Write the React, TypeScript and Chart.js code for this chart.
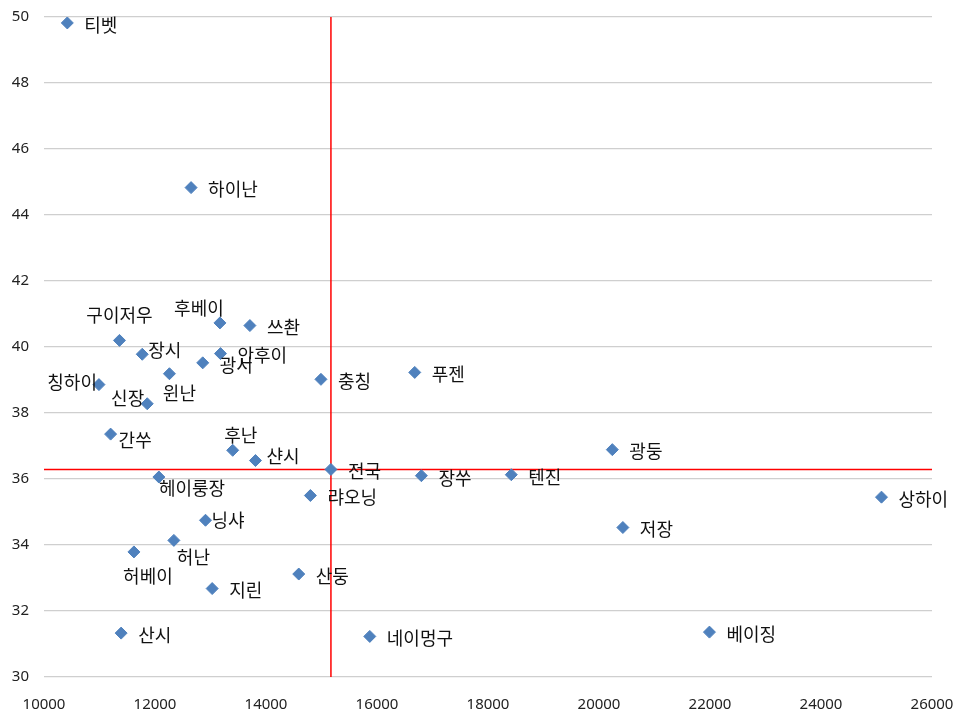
import React, { useEffect, useRef } from 'react';
import { Chart, registerables } from 'chart.js';

Chart.register(...registerables);

const regions: string[] = [
  '티벳', '하이난', '구이저우', '후베이', '쓰촨', '장시', '안후이', '광서',
  '윈난', '칭하이', '신장', '충칭', '푸젠', '간쑤', '후난', '샨시',
  '전국', '장쑤', '헤이룽장', '랴오닝', '닝샤', '텐진', '광둥', '상하이',
  '저장', '허난', '허베이', '산둥', '지린', '산시', '네이멍구', '베이징',
];
const incomeValues: number[] = [
  10420, 12650, 11360, 13170, 13710, 11770, 13180, 12860,
  12260, 10990, 11860, 14990, 16680, 11200, 13400, 13810,
  15170, 16800, 12070, 14800, 12910, 18420, 20240, 25090,
  20430, 12340, 11620, 14590, 13030, 11390, 15870, 21990,
];
const shareValues: number[] = [
  49.82, 44.83, 40.2, 40.73, 40.65, 39.78, 39.8, 39.52,
  39.19, 38.86, 38.28, 39.02, 39.23, 37.36, 36.87, 36.56,
  36.29, 36.1, 36.06, 35.5, 34.75, 36.13, 36.89, 35.45,
  34.53, 34.14, 33.79, 33.12, 32.68, 31.33, 31.23, 31.36,
];
const referenceName = '전국';
const xMin = 10000;
const xMax = 26000;
const xStep = 2000;
const yMin = 30;
const yMax = 50;
const yStep = 2;

// label placement styles: [dx, dy, align]
type Place = [number, number, CanvasTextAlign];
const defaultPlace: Place = [17, 2, 'left'];
const labelPlace: Record<string, Place> = {
  '구이저우': [0, -25, 'center'],
  '후베이': [-21, -15, 'center'],
  '칭하이': [-2, -2, 'right'],
  '신장': [-3, -6, 'right'],
  '윈난': [10, 19, 'center'],
  '후난': [8, -15, 'center'],
  '헤이룽장': [0, 11, 'left'],
  '허난': [3, 17, 'left'],
  '허베이': [14, 24, 'center'],
  '간쑤': [8, 6, 'left'],
  '닝샤': [6, 0, 'left'],
  '장시': [6, -4, 'left'],
  '샨시': [11, -4, 'left'],
};

const labelPlugin = {
  id: 'pointLabels',
  afterDatasetsDraw(chart: any) {
    const meta = chart.getDatasetMeta(0);
    const ctx = chart.ctx;
    ctx.save();
    ctx.font = '18px "Noto Sans CJK KR"';
    ctx.fillStyle = '#111';
    ctx.textBaseline = 'middle';
    meta.data.forEach((pt: any, i: number) => {
      const name = regions[i];
      const [dx, dy, align] = labelPlace[name] || defaultPlace;
      ctx.textAlign = align;
      ctx.fillText(name, pt.x + dx, pt.y + dy);
    });
    ctx.restore();
  },
};

export default function App() {
  const ref = useRef<HTMLCanvasElement | null>(null);
  useEffect(() => {
    if (!ref.current) return;
    const refIdx = regions.indexOf(referenceName);
    const rx = incomeValues[refIdx];
    const ry = shareValues[refIdx];
    const chart = new Chart(ref.current, {
      type: 'scatter',
      data: {
        datasets: [
          {
            data: regions.map((_, i) => ({ x: incomeValues[i], y: shareValues[i] })),
            pointStyle: 'rectRot',
            pointRadius: 6,
            pointBorderWidth: 1,
            backgroundColor: '#4F81BD',
            borderColor: '#4F81BD',
          },
          {
            data: [{ x: rx, y: yMin }, { x: rx, y: yMax }],
            showLine: true,
            pointRadius: 0,
            borderColor: '#ff0000',
            borderWidth: 1.5,
          },
          {
            data: [{ x: xMin, y: ry }, { x: xMax, y: ry }],
            showLine: true,
            pointRadius: 0,
            borderColor: '#ff0000',
            borderWidth: 1.5,
          },
        ],
      },
      options: {
        animation: false,
        responsive: false,
        layout: { padding: { top: 17, right: 24, left: 0, bottom: 0 } },
        plugins: { legend: { display: false }, tooltip: { enabled: false } },
        scales: {
          x: {
            type: 'linear',
            min: xMin,
            max: xMax,
            grid: { display: false, drawTicks: false },
            border: { display: false },
            ticks: {
              stepSize: xStep,
              padding: 19,
              color: '#222',
              font: { family: '"Noto Sans"', size: 15 },
              callback: (v: any) => String(v),
            },
            afterFit: (s: any) => {
              s.height = 39;
              s.paddingLeft = 0;
              s.paddingRight = 0;
            },
          },
          y: {
            type: 'linear',
            min: yMin,
            max: yMax,
            grid: { color: '#cfcfcf', lineWidth: 1.3, drawTicks: false },
            border: { display: false },
            ticks: {
              stepSize: yStep,
              padding: 15,
              color: '#222',
              font: { family: '"Noto Sans"', size: 15 },
              callback: (v: any) => String(v),
            },
            afterFit: (s: any) => {
              s.width = 44;
              s.paddingTop = 0;
              s.paddingBottom = 0;
            },
          },
        },
      },
      plugins: [labelPlugin],
    });
    return () => chart.destroy();
  }, []);
  return (
    <div style={{ position: 'absolute', left: 0, top: 0, width: 956, height: 716, background: '#fff' }}>
      <canvas ref={ref} width={956} height={716} />
    </div>
  );
}
